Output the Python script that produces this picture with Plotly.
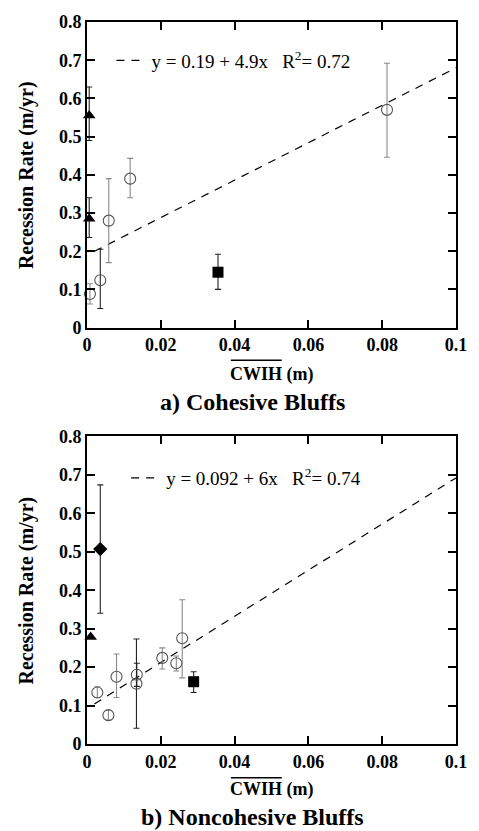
import plotly.graph_objects as go

# ---------------- data: a) Cohesive Bluffs ----------------
a_circ_x = [0.0008, 0.0036, 0.0059, 0.0117, 0.0813]
a_circ_y = [0.088, 0.124, 0.280, 0.390, 0.570]
a_circ_up = [0.027, 0.081, 0.110, 0.053, 0.122]
a_circ_dn = [0.026, 0.074, 0.110, 0.050, 0.124]
a_circ_dark = [False, True, False, False, False]

a_tri_x = [0.0006, 0.0006]
a_tri_y = [0.555, 0.285]
a_tri_up = [0.075, 0.055]
a_tri_dn = [0.065, 0.049]

a_sq_x = [0.0355]
a_sq_y = [0.145]
a_sq_up = [0.047]
a_sq_dn = [0.045]

a_fit_b0, a_fit_b1, a_fit_r2 = 0.19, 4.9, 0.72
a_fit_x = [0.002, 0.1]

# ---------------- data: b) Noncohesive Bluffs ----------------
b_circ_x = [0.0028, 0.0058, 0.0080, 0.0134, 0.0135, 0.0204, 0.0242, 0.0258]
b_circ_y = [0.134, 0.075, 0.175, 0.157, 0.180, 0.224, 0.210, 0.275]
b_circ_up = [0.015, 0.012, 0.059, 0.116, 0.030, 0.026, 0.019, 0.100]
b_circ_dn = [0.013, 0.013, 0.054, 0.116, 0.030, 0.029, 0.020, 0.103]
b_circ_dark = [False, False, False, True, True, False, False, False]

b_tri_x = [0.0010]
b_tri_y = [0.278]

b_dia_x = [0.0036]
b_dia_y = [0.507]
b_dia_up = [0.167]
b_dia_dn = [0.167]

b_sq_x = [0.0289]
b_sq_y = [0.162]
b_sq_up = [0.026]
b_sq_dn = [0.028]

b_fit_b0, b_fit_b1, b_fit_r2 = 0.092, 6.0, 0.74
b_fit_x = [0.002, 0.1]

x_ticks = [0, 0.02, 0.04, 0.06, 0.08, 0.1]
y_ticks = [0, 0.1, 0.2, 0.3, 0.4, 0.5, 0.6, 0.7, 0.8]

# ---------------- layout geometry ----------------
W, H = 479, 831
ML, MR, MT, MB = 87, 15, 14, 87
PW, PH = W - ML - MR, H - MT - MB


def px2x(px):
    return (px - ML) / PW


def px2y(py):
    return (H - MB - py) / PH


TOP_DOM = [px2y(323), 1.0]
BOT_DOM = [0.0, px2y(433)]

SERIF = "Liberation Serif, Times New Roman, Times, serif"
GRAY = "#8a8a8a"
DARK = "#222222"
CIRC_LINE = "#555555"

fig = go.Figure()


def add_panel(xa, ya, circ_x, circ_y, circ_up, circ_dn, circ_dark,
              solids, fit_b0, fit_b1, fit_r2, fit_x, legend):
    fig.add_trace(go.Scatter(
        x=fit_x, y=[fit_b0 + fit_b1 * v for v in fit_x], mode="lines",
        line=dict(color="black", width=1.2, dash="8px,7px"),
        name=f"y = {fit_b0:g} + {fit_b1:g}x\u00a0\u00a0\u00a0R<sup>2</sup>= {fit_r2:g}",
        showlegend=True, legend=legend, xaxis=xa, yaxis=ya, hoverinfo="skip"))
    for x, y, u, d, dark in zip(circ_x, circ_y, circ_up, circ_dn, circ_dark):
        fig.add_trace(go.Scatter(
            x=[x], y=[y], mode="markers",
            marker=dict(symbol="circle-open", size=11, color=CIRC_LINE,
                        line=dict(width=1.1, color=CIRC_LINE)),
            error_y=dict(type="data", array=[u], arrayminus=[d],
                         color=DARK if dark else GRAY, thickness=1.1, width=3),
            showlegend=False, xaxis=xa, yaxis=ya, cliponaxis=False))
    for (sx, sy, su, sd, sym, size) in solids:
        ey = dict(type="data", array=su, arrayminus=sd, color=DARK,
                  thickness=1.1, width=3) if su is not None else None
        fig.add_trace(go.Scatter(
            x=sx, y=sy, mode="markers",
            marker=dict(symbol=sym, size=size, color="black"),
            error_y=ey, showlegend=False, xaxis=xa, yaxis=ya, cliponaxis=False))


add_panel("x", "y", a_circ_x, a_circ_y, a_circ_up, a_circ_dn, a_circ_dark,
          [(a_tri_x, a_tri_y, a_tri_up, a_tri_dn, "triangle-up", 11),
           (a_sq_x, a_sq_y, a_sq_up, a_sq_dn, "square", 11)],
          a_fit_b0, a_fit_b1, a_fit_r2, a_fit_x, "legend")

add_panel("x2", "y2", b_circ_x, b_circ_y, b_circ_up, b_circ_dn, b_circ_dark,
          [(b_tri_x, b_tri_y, None, None, "triangle-up", 11),
           (b_dia_x, b_dia_y, b_dia_up, b_dia_dn, "diamond", 11),
           (b_sq_x, b_sq_y, b_sq_up, b_sq_dn, "square", 11)],
          b_fit_b0, b_fit_b1, b_fit_r2, b_fit_x, "legend2")

tickfont = dict(family=SERIF, size=18, color="black", weight="bold")
axis_common = dict(showgrid=False, zeroline=False, showline=True, linewidth=2,
                   linecolor="black", mirror="ticks", ticks="inside",
                   ticklen=8, tickwidth=1.5, tickcolor="black", tickfont=tickfont)

fig.update_layout(
    width=W, height=H, margin=dict(l=ML, r=MR, t=MT, b=MB),
    paper_bgcolor="white", plot_bgcolor="white",
    xaxis=dict(axis_common, range=[0, 0.1], tickvals=x_ticks, domain=[0, 1], anchor="y"),
    yaxis=dict(axis_common, range=[0, 0.8], tickvals=y_ticks, domain=TOP_DOM, anchor="x"),
    xaxis2=dict(axis_common, range=[0, 0.1], tickvals=x_ticks, domain=[0, 1], anchor="y2"),
    yaxis2=dict(axis_common, range=[0, 0.8], tickvals=y_ticks, domain=BOT_DOM, anchor="x2"),
    legend=dict(x=px2x(112), y=px2y(53), xanchor="left", yanchor="middle",
                bgcolor="rgba(0,0,0,0)", font=dict(family=SERIF, size=19, color="black")),
    legend2=dict(x=px2x(127), y=px2y(475), xanchor="left", yanchor="middle",
                 bgcolor="rgba(0,0,0,0)", font=dict(family=SERIF, size=19, color="black")),
    showlegend=True,
)

ylab_font = dict(family=SERIF, size=20, color="black", weight="bold")
ann_font = dict(family=SERIF, size=18, color="black", weight="bold")
sub_font = dict(family=SERIF, size=24, color="black", weight="bold")
annotations = []
for (yc, xt_y, sub_y, sub_text) in [
        ((px2y(14) + px2y(323)) / 2, px2y(370), px2y(398), "a) Cohesive Bluffs"),
        ((px2y(433) + px2y(744)) / 2, px2y(790), px2y(818), "b) Noncohesive Bluffs")]:
    annotations.append(dict(text="Recession Rate (m/yr)", textangle=-90, x=px2x(25), y=yc,
                            xref="paper", yref="paper", xanchor="center", yanchor="middle",
                            showarrow=False, font=ylab_font))
    annotations.append(dict(text="CWIH (m)", x=0.5, y=xt_y, xref="paper", yref="paper",
                            xanchor="center", yanchor="middle", showarrow=False, font=ann_font))
    annotations.append(dict(text=sub_text, x=px2x(256), y=sub_y, xref="paper", yref="paper",
                            xanchor="center", yanchor="middle", showarrow=False, font=sub_font))
fig.update_layout(annotations=annotations)

shapes = []
for oy in [356, 778]:
    shapes.append(dict(type="line", xref="paper", yref="paper",
                       x0=px2x(234), x1=px2x(286), y0=px2y(oy), y1=px2y(oy),
                       line=dict(color="black", width=1.5)))
fig.update_layout(shapes=shapes)

fig.write_html(
    "out.html",
    config={"displayModeBar": False},
    post_script="document.body.style.margin='0px';document.body.style.overflow='hidden';",
)
